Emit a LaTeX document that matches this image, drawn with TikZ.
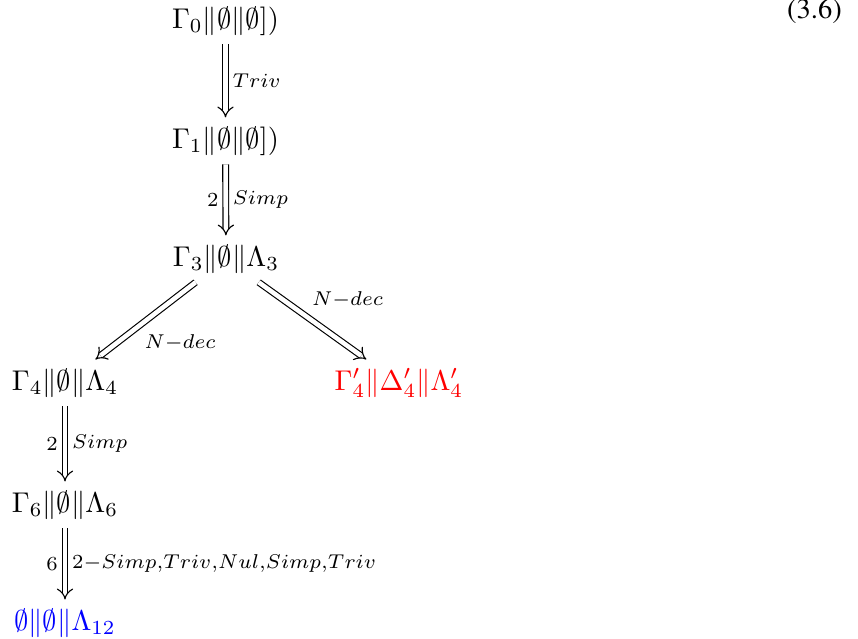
\documentclass[tikz,border=0pt]{standalone}
\usepackage{amsmath}
\usetikzlibrary{arrows.meta, positioning}

\begin{document}
\begin{tikzpicture}[x=0.35pt, y=-0.35pt, auto]
    \tikzstyle{state} = [anchor=base, inner sep=3pt]
    \tikzstyle{arrow} = [double, double distance=1.6pt, -{Implies}, line width=0.4pt]
    \tikzstyle{lbl} = [inner sep=2.3pt]

    \useasboundingbox (0,0) rectangle (858,638);

    \node (g0) [state] at (225.5,28) {$\Gamma_0\|\emptyset\|\emptyset])$};
    \node (g1) [state] at (225.5,148) {$\Gamma_1\|\emptyset\|\emptyset])$};
    \node (g3) [state] at (226,266) {$\Gamma_3\|\emptyset\|\Lambda_3$};
    \node (g4) [state] at (65,390) {$\Gamma_4\|\emptyset\|\Lambda_4$};
    \node (g4p) [state, text=red] at (399,390) {$\Gamma'_4\|\Delta'_4\|\Lambda'_4$};
    \node (g6) [state] at (65,512) {$\Gamma_6\|\emptyset\|\Lambda_6$};
    \node (g12) [state, text=blue] at (65,630) {$\emptyset\|\emptyset\|\Lambda_{12}$};
    \node (eqno) [anchor=base, font=\usefont{OT1}{ptm}{m}{n}] at (814.5,19) {(3.6)};

    \draw [arrow] (g0) -- node[lbl] {$\scriptstyle Triv$} (g1);
    \draw [arrow] (g1) -- node[lbl] {$\scriptstyle Simp$} node[lbl, swap] {$\scriptstyle 2$} (g3);
    \draw [arrow] (g3) -- node[lbl, pos=0.58] {$\scriptstyle N-dec$} (g4);
    \draw [arrow] (g3) -- node[lbl, pos=0.43] {$\scriptstyle N-dec$} (g4p);
    \draw [arrow] (g4) -- node[lbl] {$\scriptstyle Simp$} node[lbl, swap] {$\scriptstyle 2$} (g6);
    \draw [arrow] (g6) -- node[lbl] {$\scriptstyle 2-Simp,Triv,Nul,Simp,Triv$} node[lbl, swap] {$\scriptstyle 6$} (g12);
\end{tikzpicture}
\end{document}
